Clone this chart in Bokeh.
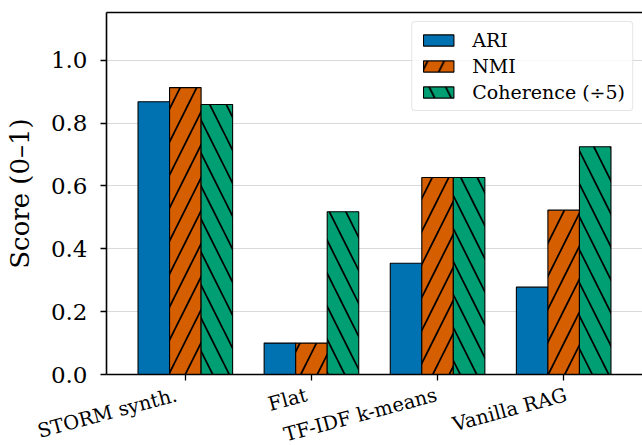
import math
from bokeh.plotting import figure
from bokeh.models import (ColumnDataSource, FactorRange, Range1d, FixedTicker,
                          CategoricalAxis, PrintfTickFormatter, Legend, LegendItem)
from bokeh.core.properties import value
from bokeh.transform import dodge
from bokeh.embed import file_html
from bokeh.resources import INLINE

# ---- data ----
categories = ["STORM synth.", "Flat", "TF-IDF k-means", "Vanilla RAG"]
ari = [0.868, 0.10, 0.354, 0.278]
nmi = [0.913, 0.10, 0.627, 0.523]
coherence = [0.859, 0.518, 0.627, 0.725]
series_names = ["ARI", "NMI", "Coherence (\u00f75)"]
y_ticks = [0.0, 0.2, 0.4, 0.6, 0.8, 1.0]
y_label = "Score (0\u20131)"

colors = ["#0072B2", "#D55E00", "#009E73"]
hatches = [" ", "/", "\\"]
FONT = "DejaVu Serif"

# ---- layout constants ----
W = 642
LEFT = 106
TOP = 12
FRAME_H = 362
BOTTOM1 = 10
LABEL_H = 61
LABEL_DROP = 20        # px below the x axis line where each label's right-middle sits
PAD = 0.0625           # categorical padding on each side
XMAX = len(categories) + PAD
YMAX = 1.152

source = ColumnDataSource(data=dict(cat=categories, ari=ari, nmi=nmi, coh=coherence))

p = figure(
    x_range=FactorRange(*categories, range_padding=2 * PAD, range_padding_units="absolute"),
    y_range=Range1d(0, YMAX),
    width=W, height=TOP + FRAME_H + BOTTOM1,
    output_backend="svg", toolbar_location=None,
    min_border_left=LEFT, min_border_right=0, min_border_top=TOP, min_border_bottom=BOTTOM1,
)
p.outline_line_color = None
p.background_fill_color = "white"
p.border_fill_color = "white"

bw = 0.25
renderers = []
for i, (col, name) in enumerate(zip(["ari", "nmi", "coh"], series_names)):
    r = p.vbar(x=dodge("cat", (i - 1) * bw, range=p.x_range), top=col, width=bw,
               source=source, fill_color=colors[i], line_color="black", line_width=1.1,
               hatch_pattern=hatches[i], hatch_color="black", hatch_weight=1.7,
               hatch_scale=33)
    renderers.append((name, r))

# axes
p.yaxis.ticker = FixedTicker(ticks=y_ticks)
p.yaxis.formatter = PrintfTickFormatter(format="%.1f")
p.yaxis.axis_label = y_label
p.yaxis.axis_label_text_font = FONT
p.yaxis.axis_label_text_font_size = "26px"
p.yaxis.axis_label_text_font_style = "normal"
p.yaxis.axis_label_text_color = "black"
p.yaxis.axis_label_standoff = 13

for ax in (p.xaxis[0], p.yaxis[0]):
    ax.major_label_text_font = FONT
    ax.major_label_text_color = "black"
    ax.axis_line_color = "black"
    ax.axis_line_width = 1.6
    ax.major_tick_line_color = "black"
    ax.major_tick_line_width = 1.3
    ax.major_tick_out = 6
    ax.major_tick_in = 0
    ax.minor_tick_line_color = None

p.yaxis.major_label_text_font_size = "23px"
p.yaxis.major_label_standoff = 13
p.xaxis.major_label_text_font_size = "0px"
p.xaxis.major_label_text_color = None
p.xaxis.major_label_standoff = 0

# top spine
top_axis = CategoricalAxis(axis_line_color="black", axis_line_width=1.6,
                           major_label_text_font_size="0px", major_label_text_color=None,
                           major_tick_line_color=None, minor_tick_line_color=None,
                           major_label_standoff=0)
p.add_layout(top_axis, "above")

p.xgrid.grid_line_color = None
p.ygrid.ticker = FixedTicker(ticks=y_ticks)
p.ygrid.grid_line_color = "#d9d9d9"
p.ygrid.grid_line_width = 1

legend = Legend(items=[LegendItem(label=n, renderers=[r]) for n, r in renderers],
                location="top_right")
legend.label_text_font = FONT
legend.label_text_font_size = "19px"
legend.label_text_color = "black"
legend.glyph_width = 38
legend.glyph_height = 14
legend.label_standoff = 15
legend.label_height = 20
legend.spacing = 4
legend.padding = 7
legend.margin = 9
legend.border_line_color = "#cccccc"
legend.border_line_width = 1.5
legend.border_radius = 4
legend.background_fill_color = "white"
legend.background_fill_alpha = 0.8
p.add_layout(legend)

# ---- rotated category labels in a strip below, on the same x scale ----
px_per_unit = (W - LEFT) / (XMAX + PAD)
label_y = LABEL_H - (LABEL_DROP - BOTTOM1)
label_src = ColumnDataSource(data=dict(
    x=[i + 0.5 for i in range(len(categories))],
    y=[label_y] * len(categories),
    text=categories))
p2 = figure(x_range=Range1d(-PAD - LEFT / px_per_unit, XMAX), y_range=Range1d(0, LABEL_H),
            width=W, height=LABEL_H, output_backend="svg", toolbar_location=None,
            x_axis_location=None, y_axis_location=None,
            min_border_left=0, min_border_right=0, min_border_top=0, min_border_bottom=0)
p2.outline_line_color = None
p2.grid.visible = False
p2.background_fill_color = "white"
p2.border_fill_color = "white"
p2.text(x="x", y="y", text="text", source=label_src, angle=15, angle_units="deg",
        text_align="right", text_baseline="middle", text_font=value(FONT),
        text_font_size=value("19.5px"), text_color="black", x_offset=-3)

with open("out.html", "w") as f:
    f.write(file_html([p, p2], INLINE))
